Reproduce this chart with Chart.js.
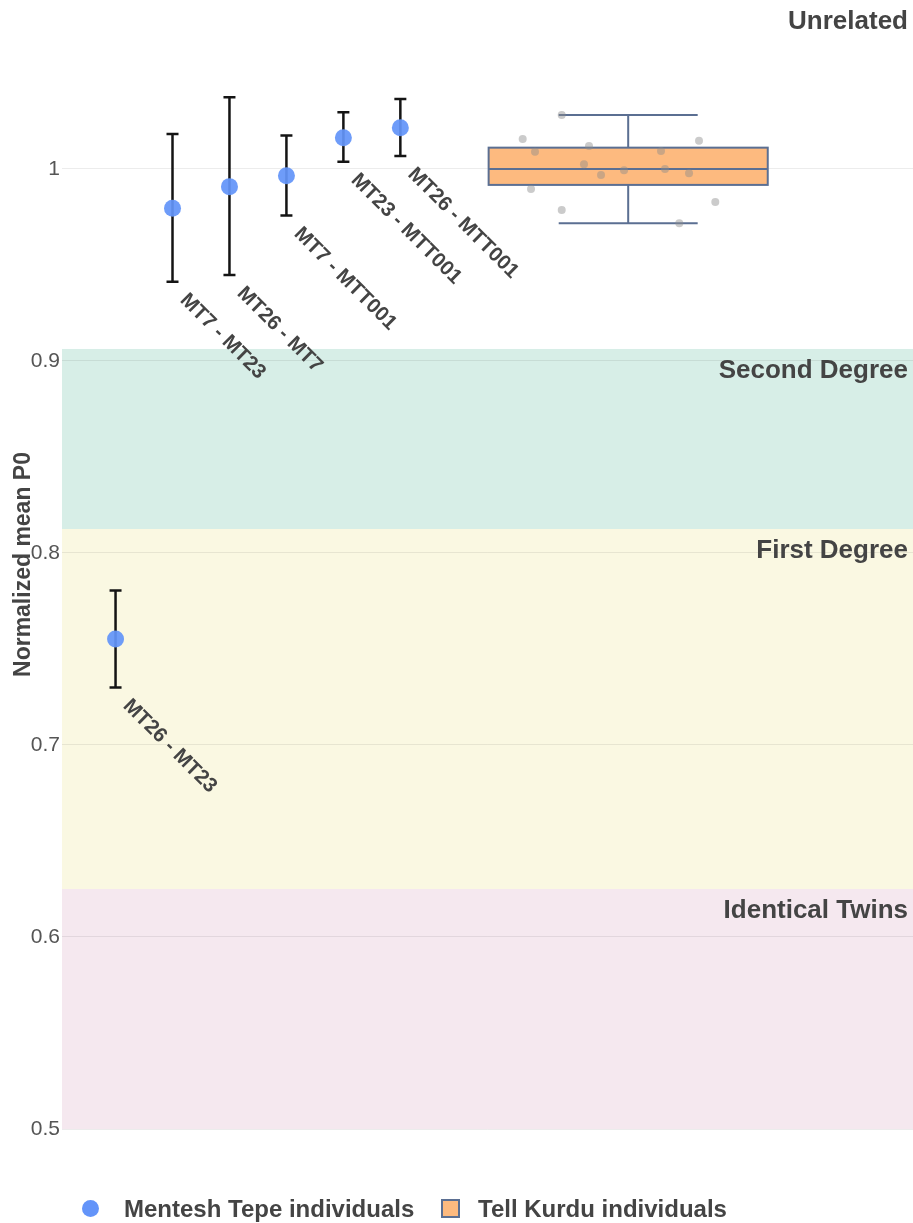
<!DOCTYPE html>
<html>
<head>
<meta charset="utf-8">
<script src="https://cdn.jsdelivr.net/npm/chart.js@4.4.1/dist/chart.umd.min.js"></script>
<style>
  html, body { margin: 0; padding: 0; background: #ffffff; }
  #wrap { position: relative; width: 913px; height: 1223px; }
  #c { position: absolute; left: 0; top: 0; }
  .lg-text { position: absolute; font: bold 24px "Liberation Sans", Arial, sans-serif; color: #444444; line-height: 24px; white-space: nowrap; }
  .lg-dot { position: absolute; width: 17px; height: 17px; border-radius: 50%; background: #6394f9; }
  .lg-box { position: absolute; width: 15px; height: 15px; background: #fdba7f; border: 2px solid #5b6f92; }
</style>
</head>
<body>
<div id="wrap">
  <canvas id="c" width="913" height="1223"></canvas>
  <div class="lg-dot" style="left:82px; top:1200px;"></div>
  <div class="lg-text" style="left:124px; top:1197px;">Mentesh Tepe individuals</div>
  <div class="lg-box" style="left:441px; top:1199px;"></div>
  <div class="lg-text" style="left:478px; top:1197px;">Tell Kurdu individuals</div>
</div>
<script>
// Mentesh Tepe pairs: mean normalized P0 with error range
const pairNames = ['MT26 - MT23', 'MT7 - MT23', 'MT26 - MT7', 'MT7 - MTT001', 'MT23 - MTT001', 'MT26 - MTT001'];
const pairX     = [0, 1, 2, 3, 4, 5];
const pairMean  = [0.7552, 0.9795, 0.9908, 0.9965, 1.0163, 1.0215];
const pairLow   = [0.7300, 0.9413, 0.9448, 0.9757, 1.0038, 1.0068];
const pairHigh  = [0.7804, 1.0182, 1.0373, 1.0174, 1.0295, 1.0365];

// Tell Kurdu pairs (background distribution), shown as jittered points and a box
const tkX      = [7.833, 7.148, 7.364, 8.312, 8.224, 8.523, 8.927, 9.576, 9.646, 10.243, 10.068, 7.294, 7.833, 10.529, 9.897];
const tkValues = [1.0281, 1.0156, 1.0090, 1.0120, 1.0024, 0.9969, 0.9993, 1.0094, 1.0000, 1.0147, 0.9978, 0.9896, 0.9786, 0.9828, 0.9717];
const tkBoxCenter = 9;
const tkBoxStats = { min: 0.9717, q1: 0.9917, median: 1.0000, q3: 1.0111, max: 1.0281 };

// Relatedness classes on the P0 axis
const bandNames  = ['Identical Twins', 'First Degree', 'Second Degree', 'Unrelated'];
const bandLower  = [0.5, 0.625, 0.8125, 0.90625];
const bandUpper  = [0.625, 0.8125, 0.90625, 1.088];
const bandColors = ['#f5e8ef', '#faf8e2', '#d7eee7', 'rgba(255,255,255,0)'];

// Y axis
const yTickValues = [0.5, 0.6, 0.7, 0.8, 0.9, 1.0];
const yTickLabels = ['0.5', '0.6', '0.7', '0.8', '0.9', '1'];

const FONT = '"Liberation Sans", Arial, sans-serif';

const bandsPlugin = {
  id: 'bands',
  beforeDraw(chart) {
    const { ctx, chartArea: a, scales: { y } } = chart;
    ctx.save();
    bandLower.forEach((lo, i) => {
      const top = y.getPixelForValue(Math.min(bandUpper[i], y.max));
      const bot = y.getPixelForValue(lo);
      ctx.fillStyle = bandColors[i];
      ctx.fillRect(a.left, top, a.right - a.left, bot - top);
    });
    ctx.restore();
  },
  afterDraw(chart) {
    const { ctx, chartArea: a, scales: { y } } = chart;
    ctx.save();
    ctx.font = 'bold 26px ' + FONT;
    ctx.fillStyle = '#444444';
    ctx.textAlign = 'right';
    ctx.textBaseline = 'middle';
    bandNames.forEach((name, i) => {
      const top = y.getPixelForValue(Math.min(bandUpper[i], y.max));
      ctx.fillText(name, a.right - 5, top + 22);
    });
    ctx.restore();
  }
};

const marksPlugin = {
  id: 'marks',
  beforeDatasetsDraw(chart) {
    const { ctx, scales: { x, y } } = chart;
    ctx.save();
    // box for Tell Kurdu
    const cx = x.getPixelForValue(tkBoxCenter);
    const bl = x.getPixelForValue(tkBoxCenter - 2.45);
    const br = x.getPixelForValue(tkBoxCenter + 2.45);
    const wl = x.getPixelForValue(tkBoxCenter - 1.22);
    const wr = x.getPixelForValue(tkBoxCenter + 1.22);
    const yq1 = y.getPixelForValue(tkBoxStats.q1);
    const yq3 = y.getPixelForValue(tkBoxStats.q3);
    const ymed = y.getPixelForValue(tkBoxStats.median);
    const ymin = y.getPixelForValue(tkBoxStats.min);
    const ymax = y.getPixelForValue(tkBoxStats.max);
    ctx.strokeStyle = '#5b6f92';
    ctx.lineWidth = 2;
    ctx.beginPath();
    ctx.moveTo(cx, yq3); ctx.lineTo(cx, ymax);
    ctx.moveTo(wl, ymax); ctx.lineTo(wr, ymax);
    ctx.moveTo(cx, yq1); ctx.lineTo(cx, ymin);
    ctx.moveTo(wl, ymin); ctx.lineTo(wr, ymin);
    ctx.stroke();
    ctx.fillStyle = '#fdba7f';
    ctx.fillRect(bl, yq3, br - bl, yq1 - yq3);
    ctx.strokeRect(bl, yq3, br - bl, yq1 - yq3);
    ctx.beginPath();
    ctx.moveTo(bl, ymed); ctx.lineTo(br, ymed);
    ctx.stroke();

    // error bars for Mentesh Tepe pairs
    ctx.strokeStyle = '#141414';
    ctx.lineWidth = 2.5;
    pairX.forEach((px, i) => {
      const xp = x.getPixelForValue(px);
      const yl = y.getPixelForValue(pairLow[i]);
      const yh = y.getPixelForValue(pairHigh[i]);
      ctx.beginPath();
      ctx.moveTo(xp, yl); ctx.lineTo(xp, yh);
      ctx.moveTo(xp - 6, yl); ctx.lineTo(xp + 6, yl);
      ctx.moveTo(xp - 6, yh); ctx.lineTo(xp + 6, yh);
      ctx.stroke();
    });
    ctx.restore();
  },
  afterDatasetsDraw(chart) {
    const { ctx, scales: { x, y } } = chart;
    ctx.save();
    ctx.font = 'bold 20.5px ' + FONT;
    ctx.fillStyle = '#444444';
    ctx.textAlign = 'left';
    ctx.textBaseline = 'top';
    pairX.forEach((px, i) => {
      const xp = x.getPixelForValue(px);
      const yl = y.getPixelForValue(pairLow[i]);
      ctx.save();
      ctx.translate(xp + 18, yl + 8);
      ctx.rotate(Math.PI / 4);
      ctx.fillText(pairNames[i], 0, 0);
      ctx.restore();
    });
    ctx.restore();
  }
};

new Chart(document.getElementById('c'), {
  type: 'scatter',
  data: {
    datasets: [
      {
        label: 'Mentesh Tepe individuals',
        data: pairX.map((px, i) => ({ x: px, y: pairMean[i] })),
        pointRadius: 8.5,
        pointHoverRadius: 8.5,
        pointBackgroundColor: 'rgba(99,148,249,0.93)',
        pointBorderWidth: 0,
        borderWidth: 0
      },
      {
        label: 'Tell Kurdu individuals',
        data: tkX.map((px, i) => ({ x: px, y: tkValues[i] })),
        pointRadius: 4,
        pointHoverRadius: 4,
        pointBackgroundColor: 'rgba(140,140,140,0.45)',
        pointBorderWidth: 0,
        borderWidth: 0
      }
    ]
  },
  options: {
    responsive: false,
    animation: false,
    events: [],
    layout: { autoPadding: false, padding: { top: 0, right: 0, bottom: 94, left: 0 } },
    plugins: { legend: { display: false }, tooltip: { enabled: false } },
    scales: {
      x: { type: 'linear', min: -0.94, max: 14, display: false },
      y: {
        type: 'linear',
        min: 0.5,
        max: 1.088,
        afterBuildTicks(scale) { scale.ticks = yTickValues.map(v => ({ value: v })); },
        afterFit(scale) { scale.width = 62; scale.paddingTop = 0; scale.paddingBottom = 0; },
        border: { display: false },
        grid: { color: 'rgba(0,0,0,0.075)', lineWidth: 1, drawTicks: false },
        ticks: {
          padding: 2,
          color: '#555555',
          font: { family: FONT, size: 21 },
          callback(value) {
            const k = yTickValues.findIndex(v => Math.abs(v - value) < 1e-9);
            return k >= 0 ? yTickLabels[k] : '';
          }
        },
        title: {
          display: true,
          text: 'Normalized mean P0',
          color: '#444444',
          font: { family: FONT, size: 23, weight: 'bold' },
          padding: { top: 10, bottom: 0 }
        }
      }
    }
  },
  plugins: [bandsPlugin, marksPlugin]
});
</script>
</body>
</html>
